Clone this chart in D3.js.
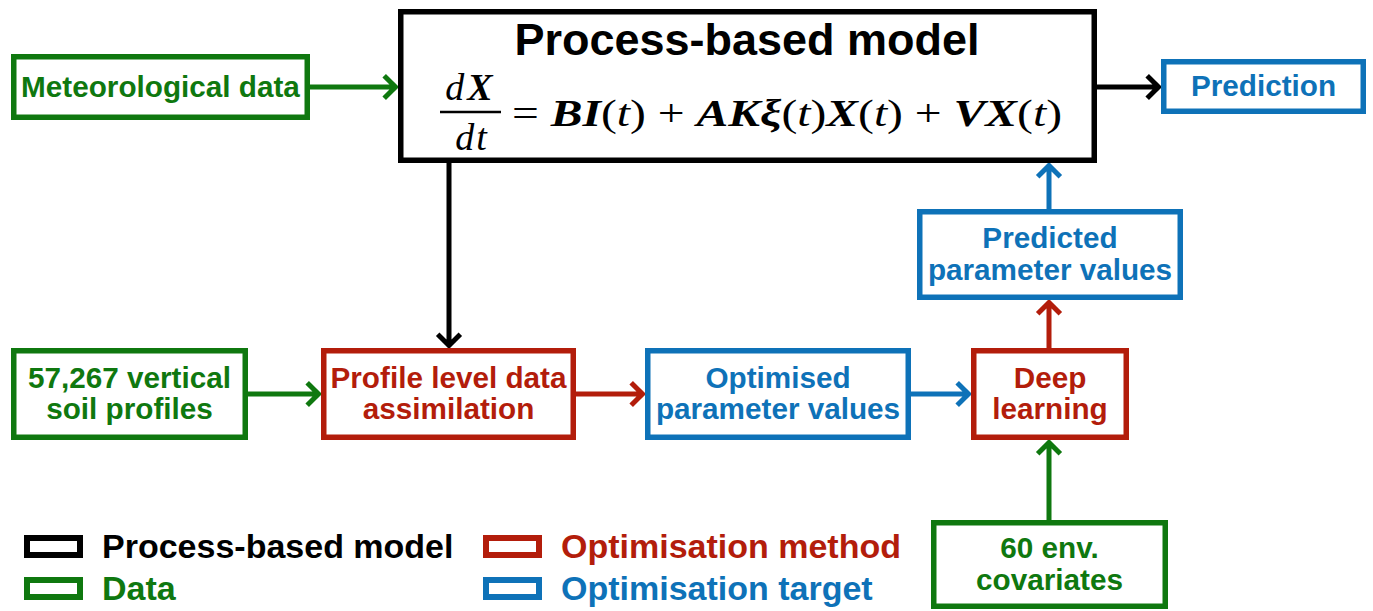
<!DOCTYPE html>
<html><head><meta charset="utf-8">
<script src="https://cdn.jsdelivr.net/npm/d3@7"></script>
<style>html,body{margin:0;padding:0;background:#fff;}svg{display:block;}</style>
</head><body>
<script>
// ---- data ----
const nodeIds   = ["met", "process", "pred", "soil", "pda", "opt", "dl", "ppv", "env"];
const nodeKinds = ["data", "model", "target", "data", "method", "target", "method", "target", "data"];
const nodeLines = [
  ["Meteorological data"],
  [],
  ["Prediction"],
  ["57,267 vertical", "soil profiles"],
  ["Profile level data", "assimilation"],
  ["Optimised", "parameter values"],
  ["Deep", "learning"],
  ["Predicted", "parameter values"],
  ["60 env.", "covariates"]
];
const edgeFrom = ["met", "process", "process", "soil", "pda", "opt", "dl", "ppv", "env"];
const edgeTo   = ["process", "pred", "pda", "pda", "opt", "dl", "ppv", "process", "dl"];
const titleText = "Process-based model";
const eqRHS = [["= ","n"],["B","b"],["I","b"],["(","n"],["t","i"],[")","n"],[" + ","n"],
  ["A","b"],["K","b"],["ξ","b"],["(","n"],["t","i"],[")","n"],["X","b"],["(","n"],["t","i"],[")","n"],
  [" + ","n"],["V","b"],["X","b"],["(","n"],["t","i"],[")","n"]];
const legendKinds  = ["model", "data", "method", "target"];
const legendLabels = ["Process-based model", "Data", "Optimisation method", "Optimisation target"];
const kindNames  = ["model", "data", "method", "target"];
const kindColors = ["#000000", "#0f780f", "#b31d0b", "#0e72b8"];

// ---- layout (positions / sizes) ----
const W = 1373, H = 611;
const boxes = {
  met:     {x0: 11,  y0: 54,  x1: 310,  y1: 120},
  process: {x0: 398, y0: 9,   x1: 1097, y1: 163},
  pred:    {x0: 1161,y0: 59,  x1: 1366, y1: 114},
  soil:    {x0: 11,  y0: 348, x1: 248,  y1: 440},
  pda:     {x0: 321, y0: 348, x1: 576,  y1: 440},
  opt:     {x0: 645, y0: 348, x1: 911,  y1: 440},
  dl:      {x0: 971, y0: 348, x1: 1129, y1: 440},
  ppv:     {x0: 917, y0: 209, x1: 1183, y1: 300},
  env:     {x0: 931, y0: 520, x1: 1168, y1: 609}
};
// arrows: [x1,y1,x2,y2] by edge index
const arrowPts = [
  [310, 87, 398, 87],
  [1097, 87, 1161, 87],
  [449, 163, 449, 348],
  [248, 394, 321, 394],
  [576, 394, 645, 394],
  [911, 394, 971, 394],
  [1049, 348, 1049, 300],
  [1049, 209, 1049, 163],
  [1049, 520, 1049, 440]
];
const SW = 5.5;
const FONT = "'Liberation Sans', Arial, Helvetica, sans-serif";
const SERIF = "'Liberation Serif', 'Times New Roman', serif";

const color = d3.scaleOrdinal().domain(kindNames).range(kindColors);

const svg = d3.select("body").append("svg").attr("width", W).attr("height", H)
  .attr("viewBox", `0 0 ${W} ${H}`);
svg.append("rect").attr("width", W).attr("height", H).attr("fill", "#fff");

const nodes = nodeIds.map((id, i) => ({id, kind: nodeKinds[i], lines: nodeLines[i], b: boxes[id]}));

// arrows
const edges = edgeFrom.map((f, i) => ({from: f, to: edgeTo[i], kind: nodeKinds[nodeIds.indexOf(f)], p: arrowPts[i]}));
const AH = 16; // arrowhead arm length
svg.append("g").selectAll("path").data(edges).join("path")
  .attr("fill", "none")
  .attr("stroke", d => color(d.kind))
  .attr("stroke-width", 5)
  .attr("stroke-linejoin", "miter")
  .attr("d", d => {
    const [x1, y1, x2, y2] = d.p;
    const ang = Math.atan2(y2 - y1, x2 - x1);
    const a1 = ang + Math.PI * 3 / 4, a2 = ang - Math.PI * 3 / 4;
    const tx = x2 - Math.cos(ang) * 2.5, ty = y2 - Math.sin(ang) * 2.5;
    return `M${x1},${y1}L${tx},${ty}` +
      `M${tx + AH * Math.cos(a1)},${ty + AH * Math.sin(a1)}L${tx},${ty}L${tx + AH * Math.cos(a2)},${ty + AH * Math.sin(a2)}`;
  });

// boxes
const g = svg.append("g").selectAll("g").data(nodes).join("g");
g.append("rect")
  .attr("x", d => d.b.x0 + SW / 2).attr("y", d => d.b.y0 + SW / 2)
  .attr("width", d => d.b.x1 - d.b.x0 - SW).attr("height", d => d.b.y1 - d.b.y0 - SW)
  .attr("fill", "#fff").attr("stroke", d => color(d.kind)).attr("stroke-width", SW);

g.each(function(d) {
  const cx = (d.b.x0 + d.b.x1) / 2, cy = (d.b.y0 + d.b.y1) / 2;
  const n = d.lines.length;
  d3.select(this).selectAll("text").data(d.lines).join("text")
    .attr("x", cx)
    .attr("y", (t, i) => cy + 9.5 + (i - (n - 1) / 2) * 31.5)
    .attr("text-anchor", "middle")
    .attr("font-family", FONT).attr("font-weight", "bold").attr("font-size", 29.7)
    .attr("fill", color(d.kind))
    .text(t => t);
});

// process box title and equation
svg.append("text").attr("x", 747).attr("y", 55).attr("text-anchor", "middle")
  .attr("font-family", FONT).attr("font-weight", "bold").attr("font-size", 45)
  .attr("textLength", 465).attr("lengthAdjust", "spacingAndGlyphs")
  .text(titleText);

const eqSize = 38;
function addFrac(y, x) {
  return svg.append("text").attr("x", x).attr("y", y).attr("text-anchor", "middle")
    .attr("font-family", SERIF).attr("font-size", eqSize);
}
const num = addFrac(100, 469);
num.append("tspan").attr("font-style", "italic").text("d");
num.append("tspan").attr("font-style", "italic").attr("font-weight", "bold").attr("dx", 3).text("X");
const den = addFrac(150, 471);
den.append("tspan").attr("font-style", "italic").text("d");
den.append("tspan").attr("font-style", "italic").attr("dx", 2).text("t");
svg.append("line").attr("x1", 440).attr("x2", 501).attr("y1", 112).attr("y2", 112)
  .attr("stroke", "#000").attr("stroke-width", 2.5);

const rhs = svg.append("text").attr("x", 512).attr("y", 126)
  .attr("font-family", SERIF).attr("font-size", eqSize)
  .attr("textLength", 550).attr("lengthAdjust", "spacingAndGlyphs")
  .attr("xml:space", "preserve").style("white-space", "pre");
rhs.selectAll("tspan").data(eqRHS).join("tspan")
  .attr("font-style", d => d[1] === "n" ? "normal" : "italic")
  .attr("font-weight", d => d[1] === "b" ? "bold" : "normal")
  .text(d => d[0]);

// legend
const legX = [24, 483], legY = [535, 577];
const legend = svg.append("g").selectAll("g").data(legendKinds).join("g")
  .attr("transform", (d, i) => `translate(${legX[Math.floor(i / 2)]},${legY[i % 2]})`);
legend.append("rect").attr("x", 3).attr("y", 3).attr("width", 53).attr("height", 17)
  .attr("fill", "#fff").attr("stroke", d => color(d)).attr("stroke-width", 6);
legend.append("text").attr("x", 78).attr("y", 23)
  .attr("font-family", FONT).attr("font-weight", "bold").attr("font-size", 34)
  .attr("fill", d => color(d))
  .text((d, i) => legendLabels[i]);
</script>
</body></html>
